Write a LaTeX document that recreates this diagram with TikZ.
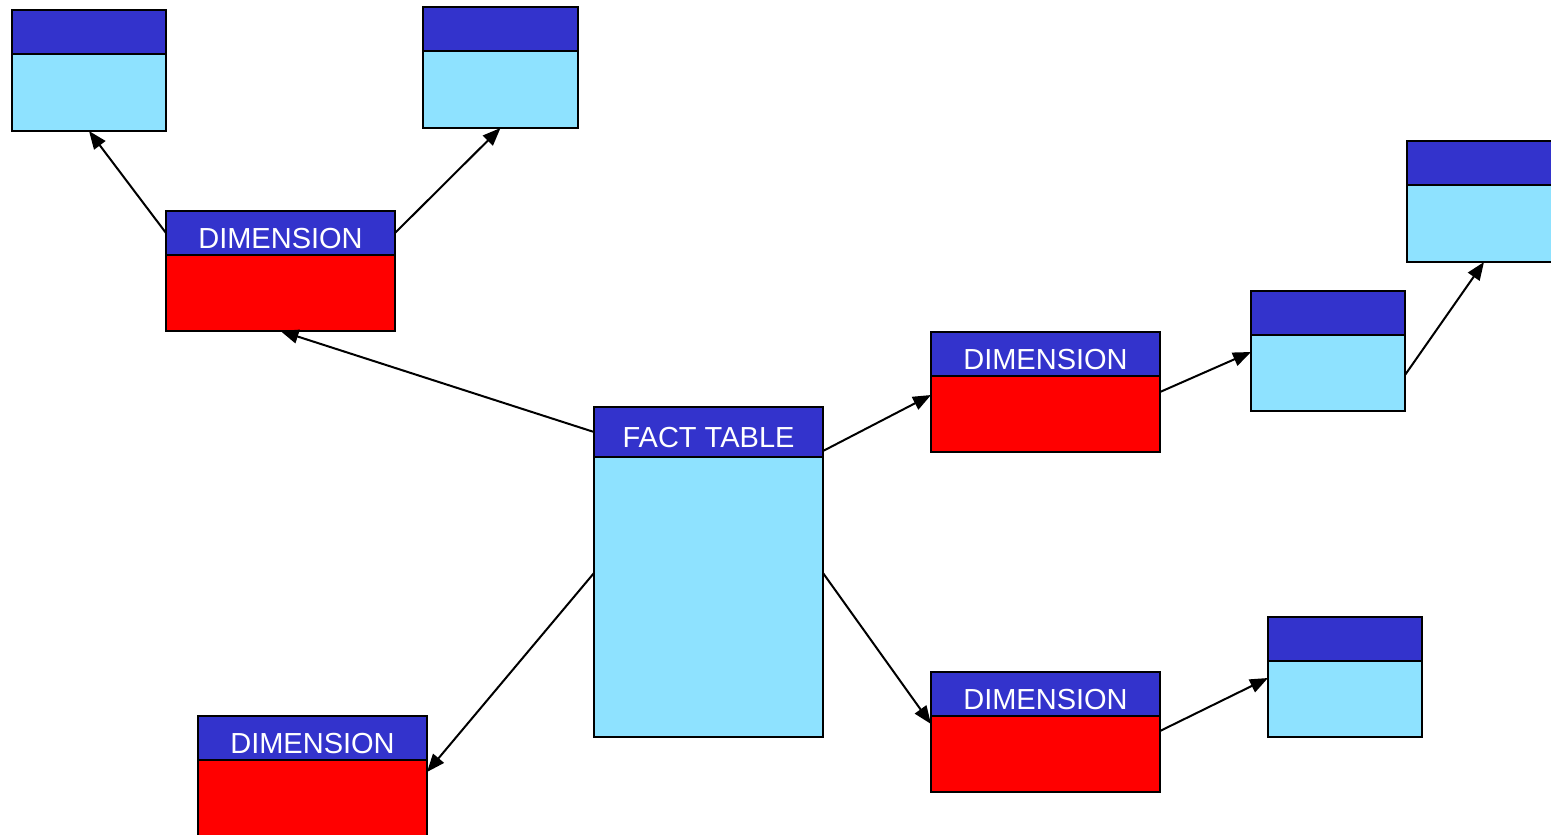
\documentclass[tikz,border=0pt]{standalone}
\usepackage{fontspec}
\setmainfont{Liberation Sans}
\usetikzlibrary{arrows.meta}
\definecolor{hdrblue}{RGB}{51,51,204}
\definecolor{rowcyan}{RGB}{142,226,255}
\definecolor{dimred}{RGB}{255,0,0}
\tikzset{
  cell/.style={draw=black, line width=1.8pt, inner sep=0pt, outer sep=0pt, anchor=north west},
  hdr/.style={cell, fill=hdrblue},
  title/.style={text=white, anchor=base, inner sep=0pt, font=\fontsize{29}{34}\selectfont},
  link/.style={line width=2pt, -{Triangle[length=18pt,width=14pt]}}
}
% \tbl{name}{x}{y}{width}{header height}{body height}{body colour}{title}
\newcommand{\tbl}[8]{%
  \node[hdr, minimum width=#4pt, minimum height=#5pt] (#1-h) at (#2,#3) {};
  \node[cell, fill=#7, minimum width=#4pt, minimum height=#6pt] (#1-b) at (#1-h.south west) {};
  \node[title] (#1-t) at ([yshift=-15pt]#1-h.center) {#8};
}
\begin{document}
\begin{tikzpicture}[x=1pt,y=-1pt]
\useasboundingbox (0,0) rectangle (1551,835);
% lookup tables
\tbl{tl}{12}{10}{154}{44}{77}{rowcyan}{}
\tbl{tm}{423}{7}{155}{44}{77}{rowcyan}{}
\tbl{sr}{1251}{291}{154}{44}{76}{rowcyan}{}
\tbl{sfr}{1407}{141}{154}{44}{77}{rowcyan}{}
\tbl{sbr}{1268}{617}{154}{44}{76}{rowcyan}{}
% dimension tables
\tbl{dtl}{166}{211}{229}{44}{76}{dimred}{DIMENSION}
\tbl{drt}{931}{332}{229}{44}{76}{dimred}{DIMENSION}
\tbl{dbr}{931}{672}{229}{44}{76}{dimred}{DIMENSION}
\tbl{dbl}{198}{716}{229}{44}{80}{dimred}{DIMENSION}
% fact table
\tbl{fact}{594}{407}{229}{50}{280}{rowcyan}{FACT TABLE}
% links
\draw[link] (dtl-h.west) -- (tl-b.south);
\draw[link] (dtl-h.east) -- (tm-b.south);
\draw[link] (fact-h.west) -- (dtl-b.south);
\draw[link] ([yshift=6pt]fact-h.south east) -- ([yshift=-19pt]drt-b.north west);
\draw[link] ([yshift=-16pt]drt-b.north east) -- ([yshift=-17pt]sr-b.north west);
\draw[link] ([yshift=-40pt]sr-b.north east) -- (sfr-b.south);
\draw[link] ([yshift=-116pt]fact-b.north east) -- ([yshift=-8pt]dbr-b.north west);
\draw[link] ([yshift=-15pt]dbr-b.north east) -- ([yshift=-17pt]sbr-b.north west);
\draw[link] ([yshift=-116pt]fact-b.north west) -- ([yshift=-12pt]dbl-b.north east);
\end{tikzpicture}
\end{document}
